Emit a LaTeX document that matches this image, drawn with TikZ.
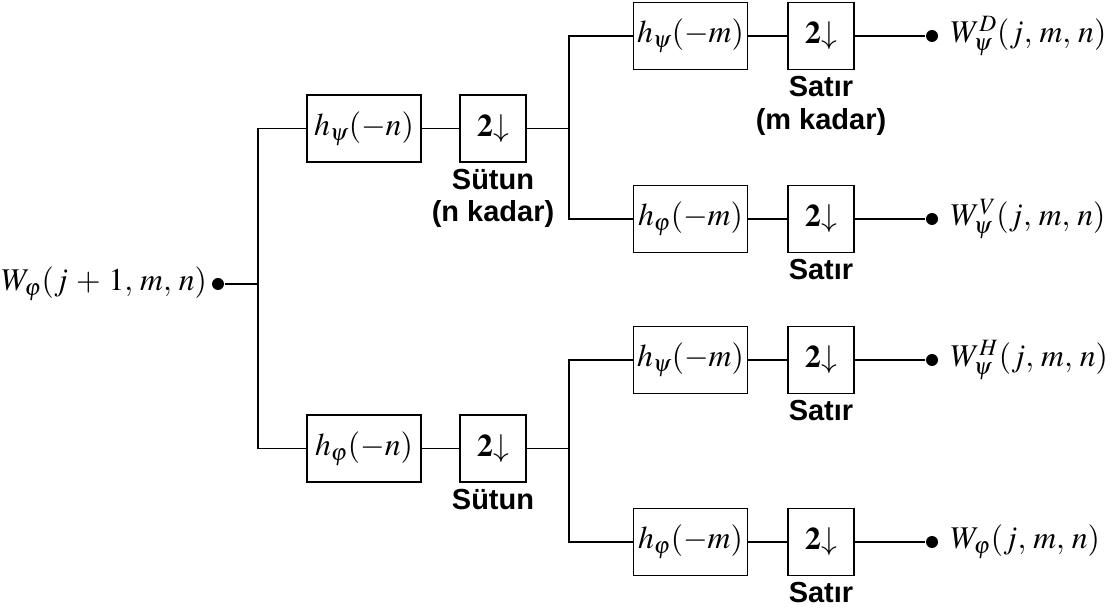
\documentclass[tikz,border=0pt]{standalone}
\usepackage{mathptmx}
\usepackage{amsmath}
\usepackage[no-math]{fontspec}
\newfontfamily\labfont{Liberation Sans}
\usepackage{tikz}

\begin{document}
\begin{tikzpicture}[x=0.02cm, y=-0.02cm, line width=0.9pt,
  every node/.style={font=\fontsize{18}{20}\selectfont},
  filt/.style={draw, line width=0.9pt, minimum width=2.28cm, minimum height=1.34cm, inner sep=0pt},
  down/.style={draw, line width=0.9pt, minimum width=1.32cm, minimum height=1.34cm, inner sep=0pt},
  dot/.style={circle, fill=black, inner sep=0pt, minimum size=0.24cm},
  lab/.style={font=\labfont\bfseries\fontsize{16.5}{18.5}\selectfont, align=center, inner sep=3pt}]

  \useasboundingbox (0,0) rectangle (1116,614);

  % --- horizontal positions ---
  \def\xin{218}
  \def\xa{258}
  \def\xhn{364}
  \def\xdn{493}
  \def\xb{569}
  \def\xhm{690.5}
  \def\xdm{821}
  \def\xout{932}

  % --- vertical positions ---
  \def\yin{284}
  \def\ytop{128.5}
  \def\ybot{448.5}
  \def\ya{36}
  \def\yb{219}
  \def\yc{360}
  \def\yd{542}

  % ============================================================
  % input
  % ============================================================
  \node[dot] (in) at (\xin,\yin) {};
  \node[left, inner sep=2pt] (inlab) at (in.west) {$W_{\varphi}(j\,+\,1,\,m,\,n)$};
  \coordinate (s1) at (\xa,\yin);

  % ============================================================
  % stage 1: columns (n)
  % ============================================================
  \node[filt] (hpsin) at (\xhn,\ytop) {$h_{\psi}(-n)$};
  \node[down] (dpsin) at (\xdn,\ytop) {$\mathbf{2}{\downarrow}$};
  \node[filt] (hphin) at (\xhn,\ybot) {$h_{\varphi}(-n)$};
  \node[down] (dphin) at (\xdn,\ybot) {$\mathbf{2}{\downarrow}$};

  \node[lab, below] at (dpsin.south) {Sütun\\(n kadar)};
  \node[lab, below] at (dphin.south) {Sütun};

  \draw (in) -- (s1);
  \draw (hpsin.west) -| (s1) |- (hphin.west);
  \draw (hpsin) -- (dpsin);
  \draw (hphin) -- (dphin);

  \coordinate (s2) at (\xb,\ytop);
  \coordinate (s3) at (\xb,\ybot);
  \draw (dpsin) -- (s2);
  \draw (dphin) -- (s3);

  % ============================================================
  % stage 2: rows (m)
  % ============================================================
  \node[filt] (hm1) at (\xhm,\ya) {$h_{\psi}(-m)$};
  \node[filt] (hm2) at (\xhm,\yb) {$h_{\varphi}(-m)$};
  \node[filt] (hm3) at (\xhm,\yc) {$h_{\psi}(-m)$};
  \node[filt] (hm4) at (\xhm,\yd) {$h_{\varphi}(-m)$};

  \node[down] (dm1) at (\xdm,\ya) {$\mathbf{2}{\downarrow}$};
  \node[down] (dm2) at (\xdm,\yb) {$\mathbf{2}{\downarrow}$};
  \node[down] (dm3) at (\xdm,\yc) {$\mathbf{2}{\downarrow}$};
  \node[down] (dm4) at (\xdm,\yd) {$\mathbf{2}{\downarrow}$};

  \node[lab, below] at (dm1.south) {Satır\\(m kadar)};
  \node[lab, below] at (dm2.south) {Satır};
  \node[lab, below] at (dm3.south) {Satır};
  \node[lab, below] at (dm4.south) {Satır};

  \draw (hm1.west) -| (s2) |- (hm2.west);
  \draw (hm3.west) -| (s3) |- (hm4.west);

  \foreach \i in {1,...,4} {
    \draw (hm\i) -- (dm\i);
  }

  % ============================================================
  % outputs
  % ============================================================
  \node[dot] (o1) at (\xout,\ya) {};
  \node[dot] (o2) at (\xout,\yb) {};
  \node[dot] (o3) at (\xout,\yc) {};
  \node[dot] (o4) at (\xout,\yd) {};

  \foreach \i in {1,...,4} {
    \draw (dm\i) -- (o\i);
  }

  \node[right, inner sep=0pt] (w1) at (950,\ya) {$W_{\psi}^{D}(j,\,m,\,n)$};
  \node[right, inner sep=0pt] (w2) at (950,\yb) {$W_{\psi}^{V}(j,\,m,\,n)$};
  \node[right, inner sep=0pt] (w3) at (950,\yc) {$W_{\psi}^{H}(j,\,m,\,n)$};
  \node[right, inner sep=0pt] (w4) at (950,\yd) {$W_{\varphi}(j,\,m,\,n)$};

\end{tikzpicture}
\end{document}
